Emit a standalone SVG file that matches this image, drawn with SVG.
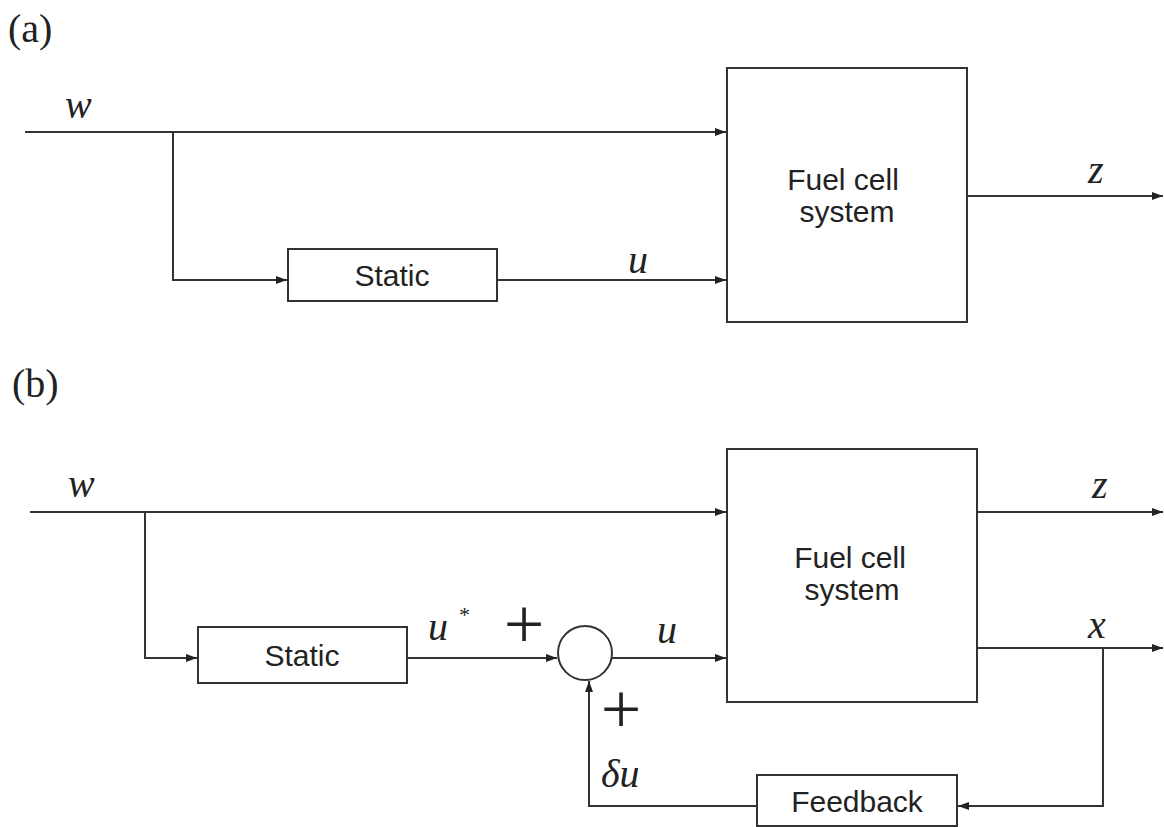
<svg xmlns="http://www.w3.org/2000/svg" width="1164" height="827" viewBox="0 0 1164 827">
<style>
.ln{fill:none;stroke:#333;stroke-width:2}
.bx{fill:#fff;stroke:#333;stroke-width:2}
.sans{font-family:"Liberation Sans",Arial,sans-serif;font-size:30px;fill:#222}
.lab{font-family:"Liberation Serif","Times New Roman",serif;font-size:40px;fill:#222}
.mi{font-family:"Liberation Serif","Times New Roman",serif;font-style:italic;font-size:40px;fill:#222}
.pl{font-family:"Liberation Serif","Times New Roman",serif;font-size:72px;fill:#222}
</style>
<defs>
<marker id="ah" markerUnits="userSpaceOnUse" markerWidth="12" markerHeight="10" refX="11" refY="5" orient="auto">
<path d="M0,1 L11,5 L0,9 z" fill="#222"/>
</marker>
</defs>
<rect width="1164" height="827" fill="#fff"/>

<g id="labels">
<text class="lab" x="8" y="42">(a)</text>
<text class="lab" x="12" y="397">(b)</text>
<text class="mi" x="65" y="118">w</text>
<text class="mi" x="628" y="273">u</text>
<text class="mi" x="1088" y="183">z</text>
<text class="mi" x="68" y="497">w</text>
<text class="mi" x="1092" y="498">z</text>
<text class="mi" x="1088" y="638">x</text>
<text class="mi" x="428" y="640">u<tspan x="459" y="622" font-size="22" font-style="normal">*</tspan></text>
<text class="mi" x="657" y="643">u</text>
<text class="mi" x="601" y="787">δu</text>
<text class="pl" x="524" y="648" text-anchor="middle">+</text>
<text class="pl" x="621" y="733" text-anchor="middle">+</text>
</g>

<g id="connectors">
<path class="ln" d="M25,132 H726" marker-end="url(#ah)"/>
<path class="ln" d="M173,132 V280 H287" marker-end="url(#ah)"/>
<path class="ln" d="M497,280 H726" marker-end="url(#ah)"/>
<path class="ln" d="M967,196 H1163" marker-end="url(#ah)"/>

<path class="ln" d="M30,512 H726" marker-end="url(#ah)"/>
<path class="ln" d="M145,512 V658 H197" marker-end="url(#ah)"/>
<path class="ln" d="M407,658 H557" marker-end="url(#ah)"/>
<path class="ln" d="M612,658 H726" marker-end="url(#ah)"/>
<path class="ln" d="M977,512 H1163" marker-end="url(#ah)"/>
<path class="ln" d="M977,648 H1163" marker-end="url(#ah)"/>
<path class="ln" d="M1103,648 V806 H958" marker-end="url(#ah)"/>
<path class="ln" d="M757,806 H589 V681" marker-end="url(#ah)"/>
</g>

<g id="static_a">
<rect class="bx" x="288" y="249" width="209" height="52"/>
<text class="sans" x="392" y="286" text-anchor="middle">Static</text>
</g>
<g id="fuel_a">
<rect class="bx" x="727" y="68" width="240" height="254"/>
<text class="sans" x="843" y="190" text-anchor="middle">Fuel cell</text>
<text class="sans" x="847" y="222" text-anchor="middle">system</text>
</g>

<g id="static_b">
<rect class="bx" x="198" y="627" width="209" height="56"/>
<text class="sans" x="302" y="666" text-anchor="middle">Static</text>
</g>
<g id="sum_b">
<circle class="bx" cx="585" cy="653" r="27"/>
</g>
<g id="fuel_b">
<rect class="bx" x="727" y="449" width="250" height="253"/>
<text class="sans" x="850" y="568" text-anchor="middle">Fuel cell</text>
<text class="sans" x="852" y="600" text-anchor="middle">system</text>
</g>
<g id="feedback_b">
<rect class="bx" x="757" y="775" width="200" height="51"/>
<text class="sans" x="857" y="812" text-anchor="middle">Feedback</text>
</g>
</svg>
